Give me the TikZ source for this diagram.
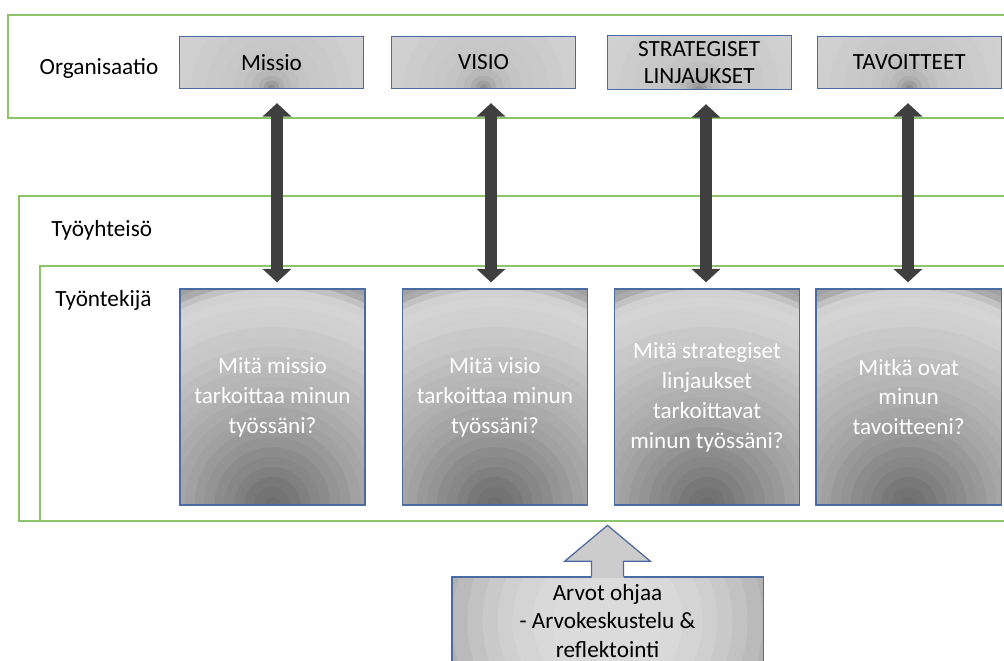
\documentclass[tikz,border=0pt]{standalone}
\usepackage{fontspec}
\setmainfont{Carlito}
\usetikzlibrary{arrows.meta, positioning}

\definecolor{framegreen}{HTML}{8CC46A}
\definecolor{boxblue}{HTML}{4A6BA3}
\definecolor{arrowgrey}{HTML}{3F3F3F}

\begin{document}
\begin{tikzpicture}[x=0.025cm, y=-0.025cm,
    base/.style={font=\fontsize{16.5}{21.3}\selectfont},
    frame/.style={draw=framegreen, line width=1.1pt},
    lvl/.style={base, inner sep=0pt},
    % grey rings round the bottom middle, like the slide gradient
    topbox/.style={base, rectangle, draw=boxblue, line width=0.9pt, minimum width=4.6cm, minimum height=1.3cm, align=center, inner sep=0pt,
        path picture={\foreach \r/\c in {130/17,110/18,95/19,80/20,65/21,50/22,38/23,28/25,20/28,13/32,8/38,4/44}
            \fill [black!\c] (path picture bounding box.south) circle [radius=\r*0.025cm];}},
    qbox/.style={base, rectangle, draw=boxblue, line width=0.9pt, text=white, minimum width=4.63cm, minimum height=5.4cm, align=center, inner sep=0pt,
        path picture={\foreach \r/\c in {250/38,236/37,228/33,222/24,216/18,208/17,198/18,188/19,178/21,168/22,158/24,148/26,138/28,128/29,118/31,108/33,98/35,88/37,78/40,68/42,58/45,48/47,38/50,28/53,18/55,8/57}
            \fill [black!\c] (path picture bounding box.south) circle [radius=\r*0.025cm];}},
    valbox/.style={base, rectangle, draw=boxblue, line width=0.9pt, minimum width=7.78cm, minimum height=2.2cm, align=center, inner sep=0pt,
        path picture={\foreach \r/\c in {190/34,170/30,155/27,140/24,125/21,110/19,95/17,75/15,55/14}
            \fill [black!\c] (path picture bounding box.center) circle [radius=\r*0.025cm];}},
    dblarrow/.style={arrowgrey, line width=8.5pt, {Triangle[width=20pt,length=9.5pt]}-{Triangle[width=20pt,length=9.5pt]}, shorten <=10pt, shorten >=4.3pt}]
    \useasboundingbox (0,0) rectangle (1004,661);
    \clip (0,0) rectangle (1004,661);

    % levels
    \draw [frame] (8,15) rectangle (1030,118);
    \draw [frame] (19,196) rectangle (1030,521);
    \draw [frame] (40,266) rectangle (1030,521);
    \node [lvl] (org) at (99,68) {Organisaatio};
    \node [lvl, anchor=west] (yhteiso) at (51,230) {Työyhteisö};
    \node [lvl, anchor=west] (tekija) at (55,300) {Työntekijä};

    % organisation level
    \node [topbox] (missio) at (271.5,62.5) {Missio};
    \node [topbox, right of=missio, node distance=5.3cm] (visio) {VISIO};
    \node [topbox, right of=visio, node distance=5.39cm, minimum height=1.35cm, font=\fontsize{16.5}{19.5}\selectfont] (strat) {STRATEGISET\\LINJAUKSET};
    \node [topbox, right of=strat, node distance=5.25cm] (tavoit) {TAVOITTEET};

    % employee level
    \node [qbox] (qmissio) at (272.5,397) {Mitä missio\\tarkoittaa minun\\työssäni?};
    \node [qbox, right of=qmissio, node distance=5.56cm] (qvisio) {Mitä visio\\tarkoittaa minun\\työssäni?};
    \node [qbox, right of=qvisio, node distance=5.3cm] (qstrat) {Mitä strategiset\\linjaukset\\tarkoittavat\\minun työssäni?};
    \node [qbox, right of=qstrat, node distance=5.04cm] (qtavoit) {Mitkä ovat\\minun\\tavoitteeni?};

    \draw [dblarrow] (missio.south -| 277,0) -- (qmissio.north -| 277,0);
    \draw [dblarrow] (visio.south -| 491,0) -- (qvisio.north -| 491,0);
    \draw [dblarrow] (strat.south -| 706,0) -- (qstrat.north -| 706,0);
    \draw [dblarrow] (tavoit.south -| 908,0) -- (qtavoit.north -| 908,0);

    % values
    \node [valbox, font=\fontsize{16.5}{20.6}\selectfont] (arvot) at (607.5,621) {Arvot ohjaa\\- Arvokeskustelu \&\\reflektointi};
    \fill [black!20] (arvot.north) ++(-16,1.5) -- ++(0,-16.5) -- ++(-27,0) -- ++(43,-36) -- ++(43,36) -- ++(-27,0) -- ++(0,16.5) -- cycle;
    \draw [boxblue, line width=0.9pt, line join=miter] (arvot.north) ++(-16,0) -- ++(0,-15) -- ++(-27,0) -- ++(43,-36) -- ++(43,36) -- ++(-27,0) -- ++(0,15);
\end{tikzpicture}
\end{document}
